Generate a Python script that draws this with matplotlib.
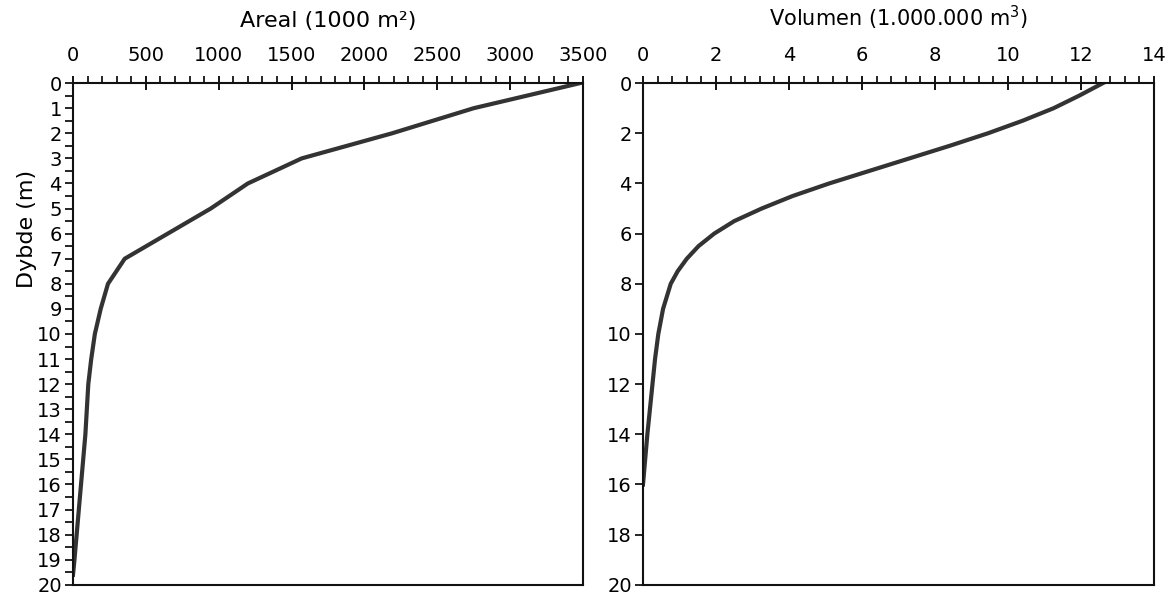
import matplotlib.pyplot as plt
from matplotlib.ticker import MultipleLocator

# hypsographic data for the lake
areal_depth = [0, 1, 2, 3, 4, 5, 6, 7, 8, 9, 10, 11, 12, 13, 14, 15, 16, 17, 18, 19, 19.6]
areal = [3480, 2750, 2190, 1570, 1200, 945, 650, 355, 240, 190, 150, 125, 105, 95, 85, 70, 55, 40, 25, 10, 0]

vol_depth = [0, 0.5, 1, 1.5, 2, 2.5, 3, 3.5, 4, 4.5, 5, 5.5, 6, 6.5, 7, 7.5, 8,
             9, 10, 11, 12, 13, 14, 15, 16]
volumen = [12.6, 11.95, 11.25, 10.4, 9.45, 8.4, 7.3, 6.2, 5.1, 4.1, 3.25, 2.5, 1.95, 1.52, 1.2, 0.95, 0.76,
           0.55, 0.42, 0.33, 0.26, 0.19, 0.12, 0.06, 0.0]

line_col = '#333333'
fs_tick = 14

fig = plt.figure(figsize=(11.68, 5.98), dpi=100)
ax1 = fig.add_axes([0.0625, 0.022, 0.4366, 0.839])
ax2 = fig.add_axes([0.5505, 0.022, 0.4375, 0.839])

for ax in (ax1, ax2):
    ax.set_ylim(20, 0)
    ax.xaxis.tick_top()
    ax.xaxis.set_label_position('top')
    for s in ax.spines.values():
        s.set_linewidth(1.5)
        s.set_color('#111111')
    ax.tick_params(axis='x', which='major', direction='inout', length=10, width=1.3,
                   labelsize=fs_tick, pad=8)
    ax.tick_params(axis='x', which='minor', direction='out', length=5, width=1.2)
    ax.tick_params(axis='y', which='both', direction='out', length=6, width=1.2,
                   labelsize=fs_tick, pad=2)

# areal
ax1.plot(areal, areal_depth, color=line_col, lw=3.0, solid_joinstyle='round')
ax1.set_xlim(0, 3500)
ax1.xaxis.set_major_locator(MultipleLocator(500))
ax1.xaxis.set_minor_locator(MultipleLocator(100))
ax1.yaxis.set_major_locator(MultipleLocator(1))
ax1.yaxis.set_minor_locator(MultipleLocator(0.5))
ax1.set_xlabel('Areal (1000 m²)', fontsize=16, labelpad=14)
ax1.set_ylabel('Dybde (m)', fontsize=16)
ax1.yaxis.set_label_coords(-0.07, 0.71)

# volumen
ax2.plot(volumen, vol_depth, color=line_col, lw=3.0, solid_joinstyle='round')
ax2.set_xlim(0, 14)
ax2.xaxis.set_major_locator(MultipleLocator(2))
ax2.xaxis.set_minor_locator(MultipleLocator(0.4))
ax2.yaxis.set_major_locator(MultipleLocator(2))
ax2.set_xlabel('Volumen (1.000.000 m$^3$)', fontsize=15, labelpad=14)

fig.savefig('out.png', dpi=100)
